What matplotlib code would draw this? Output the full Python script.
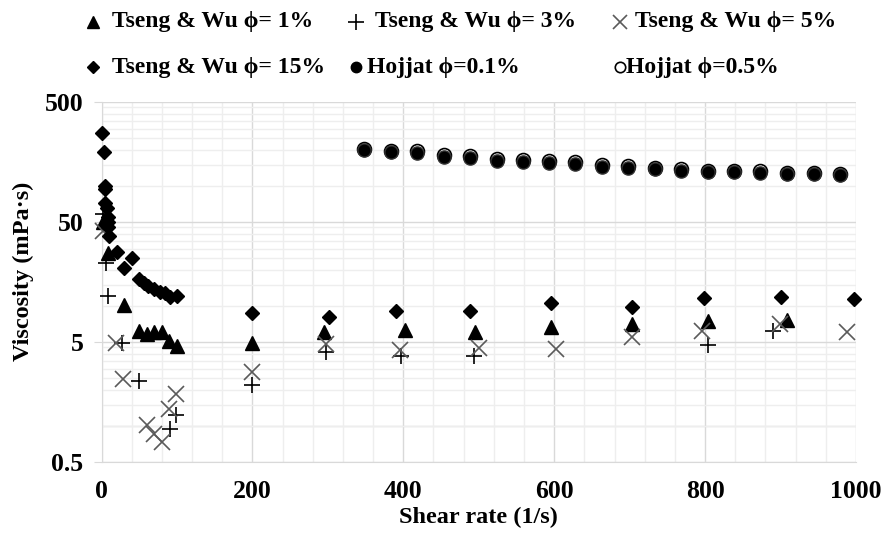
import matplotlib
matplotlib.use("Agg")
import matplotlib.pyplot as plt
from matplotlib.lines import Line2D
from matplotlib.ticker import FixedLocator, MultipleLocator, NullFormatter

plt.rcParams['font.family'] = ['Liberation Serif', 'DejaVu Serif']
plt.rcParams['font.weight'] = 'bold'

# Tseng & Wu, phi = 1 %  (triangles)
x1 = [2, 8, 30, 50, 60, 70, 80, 90, 100, 200, 295, 402, 495, 596, 703, 804, 909]
v1 = [50, 27.4, 10.2, 6.2, 5.8, 6.1, 6.0, 5.1, 4.6, 4.9, 6.0, 6.3, 6.1, 6.7, 7.1, 7.5, 7.6]

# Tseng & Wu, phi = 3 %  (plus)
x3 = [2, 6, 9, 27, 50, 91, 99, 200, 298, 397, 494, 804, 890]
v3 = [58, 22.6, 12.1, 4.9, 2.35, 0.95, 1.23, 2.19, 4.1, 3.8, 3.85, 4.7, 6.2]

# Tseng & Wu, phi = 5 %  (cross)
x5 = [2, 19, 29, 60, 70, 80, 89, 99, 200, 298, 396, 500, 602, 703, 796, 899, 988]
v5 = [42, 4.88, 2.46, 1.02, 0.86, 0.74, 1.37, 1.83, 2.83, 4.8, 4.25, 4.45, 4.36, 5.47, 6.2, 7.0, 6.1]

# Tseng & Wu, phi = 15 %  (diamonds)
x15 = [1, 3, 4, 5, 5, 7, 8, 8, 9, 10, 20, 30, 40, 50, 56, 62, 69, 77, 84, 91, 100,
       199, 301, 390, 489, 596, 703, 798, 900, 997]
v15 = [274, 190, 100, 95, 72, 65, 55, 50, 45, 38, 28, 20.6, 24.9, 16.7, 15.4, 14.5, 13.7,
       13.1, 12.7, 11.9, 12.1, 8.8, 8.0, 9.06, 9.06, 10.5, 9.7, 11.6, 11.8, 11.35]

# Hojjat
xh = [348, 384, 418, 454, 488, 524, 558, 593, 628, 663, 698, 733, 768, 804, 838, 873, 909, 944, 979]
vh01 = [199, 190, 187, 175, 170, 162, 159, 156, 152, 144, 142, 138, 134, 131, 131, 129, 126, 126, 122]
vh05 = [203, 196, 194, 182, 176, 167, 164, 161, 158, 149, 146, 142, 138, 134, 134, 132, 129, 129, 125]

ytick_vals = [0.5, 5, 50, 500]
ytick_labels = ['0.5', '5', '50', '500']

fig = plt.figure(figsize=(8.82, 5.39), dpi=100)
ax = fig.add_axes([0.1151, 0.1429, 0.9705 - 0.1151, 0.8108 - 0.1429])

ax.set_yscale('log')
ax.set_xlim(0, 1000)
ax.set_ylim(0.5, 500)

ax.xaxis.set_major_locator(MultipleLocator(200))
ax.xaxis.set_minor_locator(MultipleLocator(40))
ax.yaxis.set_major_locator(FixedLocator(ytick_vals))
ax.set_yticklabels(ytick_labels)
minor_y = [d * k / 2 for d in (1, 10, 100) for k in range(2, 10)]
ax.yaxis.set_minor_locator(FixedLocator(minor_y))
ax.yaxis.set_minor_formatter(NullFormatter())

ax.grid(True, which='minor', color='#eeeeee', lw=1, zorder=0)
ax.grid(True, which='major', color='#d9d9d9', lw=1, zorder=0)
ax.axhline(1.0, color='#d9d9d9', lw=1, zorder=0)
ax.set_axisbelow(True)

for s in ['top', 'right']:
    ax.spines[s].set_visible(False)
for s in ['left', 'bottom']:
    ax.spines[s].set_color('#d9d9d9')

ax.tick_params(axis='x', which='both', length=0, pad=13, labelsize=18.5)
ax.tick_params(axis='y', which='major', length=6, color='#d9d9d9', pad=7, labelsize=18.5)
ax.tick_params(axis='y', which='minor', length=0)

ax.set_xlabel('Shear rate (1/s)', fontsize=17.5, fontweight='bold', labelpad=3)
ax.set_ylabel('Viscosity (mPa·s)', fontsize=17.5, fontweight='bold')
ax.yaxis.set_label_coords(-0.09, 0.53)

ax.plot(x1, v1, ls='none', marker='^', ms=10.5, color='black', clip_on=False, zorder=5)
ax.plot(x3, v3, ls='none', marker='+', ms=12, mew=1.2, color='black', clip_on=False, zorder=5)
ax.plot(x5, v5, ls='none', marker='x', ms=11, mew=1.2, color='#5a5a5a', clip_on=False, zorder=5)
ax.plot(x15, v15, ls='none', marker='D', ms=7.5, color='black', clip_on=False, zorder=6)
ax.plot(xh, vh05, ls='none', marker='o', ms=10, mfc='white', mec='black', mew=1.2,
        clip_on=False, zorder=4)
ax.plot(xh, vh01, ls='none', marker='o', ms=9.5, mfc='black', mec='#333333', mew=1,
        clip_on=False, zorder=5)

# legend drawn by hand, two rows of three
W, H = 882.0, 539.0
legend_items = [
    (93, 22, 112, dict(marker='^', ms=9, color='black'), 'Tseng & Wu ϕ= 1%'),
    (356, 22, 375, dict(marker='+', ms=11, mew=1.2, color='black'), 'Tseng & Wu ϕ= 3%'),
    (620, 22, 635, dict(marker='x', ms=10, mew=1.2, color='#5a5a5a'), 'Tseng & Wu ϕ= 5%'),
    (93, 67, 112, dict(marker='D', ms=6, color='black'), 'Tseng & Wu ϕ= 15%'),
    (356, 67, 367, dict(marker='o', ms=7.5, color='black'), 'Hojjat ϕ=0.1%'),
    (620, 67, 626, dict(marker='o', ms=7.5, mfc='white', mec='black', mew=1.2), 'Hojjat ϕ=0.5%'),
]
for mx, my, tx, style, label in legend_items:
    fy = 1 - my / H
    fig.add_artist(Line2D([mx / W], [fy], ls='none', transform=fig.transFigure, **style))
    fig.text(tx / W, fy, label, fontsize=17, fontweight='bold', ha='left', va='center')

fig.savefig('out.png', dpi=100)
